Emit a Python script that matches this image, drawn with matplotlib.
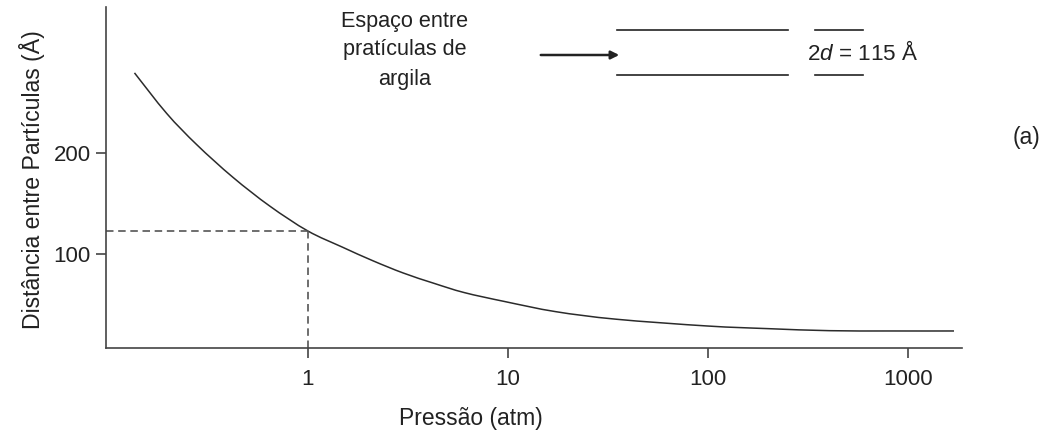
import matplotlib
matplotlib.use("Agg")
import matplotlib.pyplot as plt
from matplotlib.path import Path
from matplotlib.patches import PathPatch, FancyArrowPatch
from matplotlib.lines import Line2D
import numpy as np

plt.rcParams['font.family'] = ['Liberation Sans', 'DejaVu Sans']
plt.rcParams['mathtext.fontset'] = 'custom'
plt.rcParams['mathtext.rm'] = 'Liberation Sans'
plt.rcParams['mathtext.it'] = 'Liberation Sans:italic'

# data
pressure = [0.136, 0.197, 0.279, 0.422, 0.646, 1.0, 1.49, 2.12, 3.0, 4.26, 6.05,
            9.67, 17.3, 34.8, 99.6, 200, 404, 814, 1698]
distance = [279, 239, 208, 176, 147.5, 123, 107, 93.5, 81.5, 71.4, 62.2,
            53.3, 43.4, 35.9, 29.2, 26.6, 24.6, 24.3, 24.3]
ref_pressure = 1.0
ref_distance = 123
x_ticks = [1, 10, 100, 1000]
x_tick_labels = ['1', '10', '100', '1000']
y_ticks = [100, 200]
y_tick_labels = ['100', '200']

W, H = 1052, 436
fig = plt.figure(figsize=(W / 100, H / 100), dpi=100)
ax = fig.add_axes([106 / W, 1 - 348 / H, (962 - 106) / W, (348 - 7) / H])

line_col = '#2b2b2b'
ax.set_xscale('log')
ax.set_xlim(0.098, 1862)
ax.set_ylim(7.5, 344)

# smooth curve through the read points (Catmull-Rom drawn as cubic Bezier, in log-x space)
lx = np.log10(pressure)
yy = np.asarray(distance, float)
pts = np.column_stack([lx, yy])
verts = [pts[0]]
codes = [Path.MOVETO]
n = len(pts)
for i in range(n - 1):
    p0 = pts[i - 1] if i > 0 else pts[i]
    p1 = pts[i]
    p2 = pts[i + 1]
    p3 = pts[i + 2] if i + 2 < n else pts[i + 1]
    c1 = p1 + (p2 - p0) / 6.0
    c2 = p2 - (p3 - p1) / 6.0
    verts += [c1, c2, p2]
    codes += [Path.CURVE4] * 3
verts = np.array(verts)
verts[:, 0] = 10 ** verts[:, 0]
ax.add_patch(PathPatch(Path(verts, codes), facecolor='none', edgecolor=line_col, lw=1.1))

dash = (0, (4.5, 2.8))
ax.plot([ax.get_xlim()[0], ref_pressure], [ref_distance, ref_distance],
        color='#555555', lw=1.2, ls=dash)
ax.plot([ref_pressure, ref_pressure], [ax.get_ylim()[0], ref_distance],
        color='#555555', lw=1.2, ls=dash)

for s in ['top', 'right']:
    ax.spines[s].set_visible(False)
for s in ['left', 'bottom']:
    ax.spines[s].set_color('#444444')
    ax.spines[s].set_linewidth(1.2)

ax.set_xticks(x_ticks)
ax.set_xticklabels(x_tick_labels)
ax.xaxis.set_minor_locator(matplotlib.ticker.NullLocator())
ax.set_yticks(y_ticks)
ax.set_yticklabels(y_tick_labels)
ax.tick_params(axis='both', direction='out', length=7, width=1.2, colors='#444444',
               labelcolor='#222222', labelsize=16)
ax.tick_params(axis='x', pad=8)
ax.tick_params(axis='y', pad=4)

fig.text(32 / W, 1 - 180 / H, 'Distância entre Partículas (Å)', rotation=90,
         ha='center', va='center', fontsize=16.6, color='#222222')
fig.text(471 / W, 1 - 418 / H, 'Pressão (atm)', ha='center', va='center',
         fontsize=16.5, color='#222222')

# inset annotation
fig.text(405 / W, 1 - 50 / H, 'Espaço entre\npratículas de\nargila', ha='center',
         va='center', fontsize=15.6, color='#222222', linespacing=1.5)
fig.add_artist(FancyArrowPatch(
    (538 / W, 1 - 55 / H), (622 / W, 1 - 55 / H), transform=fig.transFigure,
    arrowstyle='-|>', mutation_scale=12, color='#222222', lw=1.8))
for y in (30, 75):
    fig.add_artist(Line2D([617 / W, 788 / W], [1 - y / H, 1 - y / H],
                          color='#222222', lw=1.2))
    fig.add_artist(Line2D([815 / W, 863 / W], [1 - y / H, 1 - y / H],
                          color='#222222', lw=1.2))
fig.text(807 / W, 1 - 53 / H, r'2$\it{d}$ = 115 Å', ha='left', va='center',
         fontsize=16.2, color='#222222')
fig.text(1026 / W, 1 - 137 / H, '(a)', ha='center', va='center', fontsize=16.5,
         color='#222222')

fig.savefig('out.png', dpi=100, facecolor='white')
